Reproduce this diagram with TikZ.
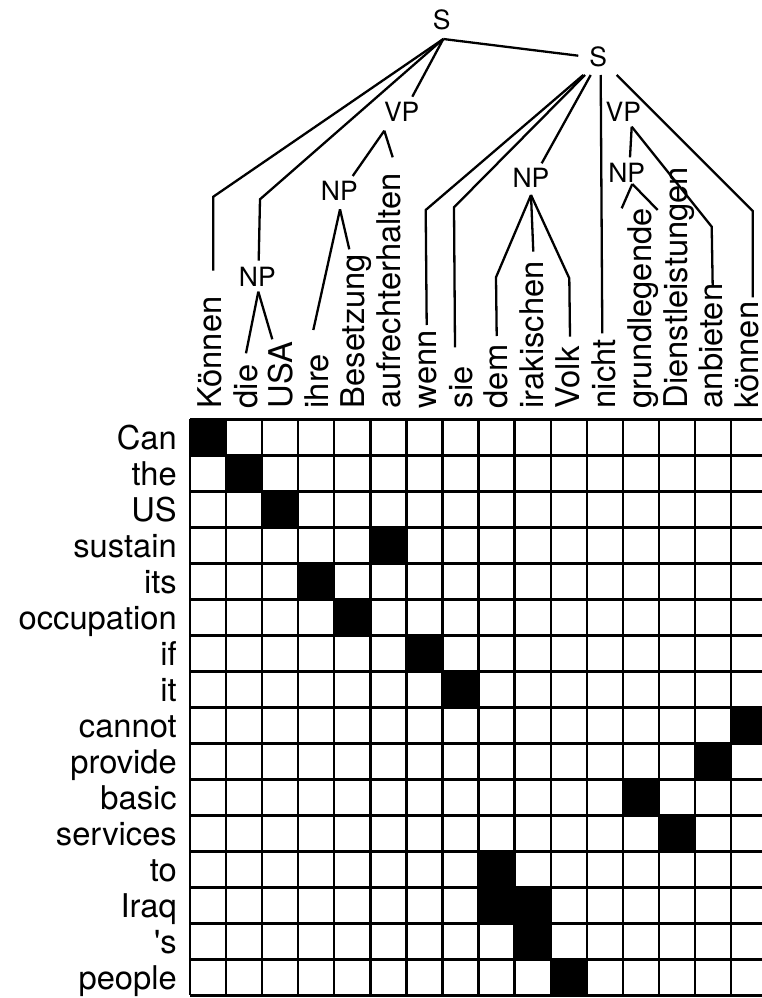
\documentclass[tikz,border=0pt]{standalone}
\usepackage{fontspec}
\setmainfont{TeX Gyre Heros}
\begin{document}
\begin{tikzpicture}[x=1pt,y=-1pt,
  ln/.style={line width=2.3pt, line join=miter},
  gl/.style={line width=2.4pt},
  lab/.style={font=\fontsize{26.5}{30}\selectfont, inner sep=0pt},
  wd/.style={font=\fontsize{32.7}{36}\selectfont, inner sep=0pt, rotate=90, anchor=base west},
  en/.style={font=\fontsize{32.7}{36}\selectfont, inner sep=0pt, anchor=base east}]
\useasboundingbox (0,0) rectangle (762,998);

% alignment cells
\foreach \r/\c in {0/0,1/1,2/2,3/5,4/3,5/4,6/6,7/7,8/15,9/14,10/12,11/13,12/8,13/8,13/9,14/9,15/10}
  \fill ({190+36.07*\c},{419.3+36*\r}) rectangle ++(36.07,36);
% grid
\foreach \i in {0,...,16}{
  \draw[gl] ({190+36.07*\i},419.3) -- ({190+36.07*\i},995.3);
  \draw[gl] (190,{419.3+36*\i}) -- (767.1,{419.3+36*\i});
}

% English words
\foreach \w [count=\k from 0] in {Can,the,US,sustain,its,occupation,if,it,cannot,provide,basic,services,to,Iraq,\textquotesingle s,people}
  \node[en] (e\k) at (177,{449.6+36*\k}) {\w};

% German words
\foreach \w [count=\k from 0] in {Können,die,USA,ihre,Besetzung,aufrechterhalten,wenn,sie,dem,irakischen,Volk,nicht,grundlegende,Dienstleistungen,anbieten,können}
  \node[wd] (g\k) at ({221.2+35.84*\k},408.5) {\w};

% tree labels
\node[lab] (S1) at (441.7,20) {S};
\node[lab] (S2) at (598.3,56.7) {S};
\node[lab] (VP1) at (401.7,111.7) {VP};
\node[lab] (NP1) at (339.3,190.7) {NP};
\node[lab] (NP0) at (257.3,276.7) {NP};
\node[lab] (NP2) at (531,178.3) {NP};
\node[lab] (VP2) at (623.3,112.3) {VP};
\node[lab] (NP3) at (626.7,172.7) {NP};

% attachment points
\coordinate (S1b) at (443.3,39);
\coordinate (S2w) at (578.3,55.7);
\coordinate (S2a) at (583.3,75);
\coordinate (S2b) at (585,75);
\coordinate (S2c) at (590.7,75);
\coordinate (S2d) at (600.7,75);
\coordinate (S2e) at (616.7,75);
\coordinate (VP1t) at (412.3,96.7);
\coordinate (VP1b) at (384.3,130.7);
\coordinate (NP1t) at (352.7,176);
\coordinate (NP1b) at (340,209.3);
\coordinate (NP0t) at (258.7,260.7);
\coordinate (NP0b) at (258.3,291.7);
\coordinate (NP2t) at (541.7,163.3);
\coordinate (NP2b) at (531,195);
\coordinate (VP2b) at (631.7,126.7);
\coordinate (NP3t) at (630,157.3);
\coordinate (NP3b) at (632.3,184);
% corners
\coordinate (c0) at (213.3,196.7);
\coordinate (c1) at (260,199.3);
\coordinate (c6) at (425.7,210);
\coordinate (c7) at (454,207.3);
\coordinate (c8) at (496,277.3);
\coordinate (c10) at (569.3,278.3);
\coordinate (c14) at (711.7,226.7);
\coordinate (c15) at (752.7,211);
% word ends
\coordinate (t0) at (213.3,270.7);
\coordinate (t1) at (246,353.3);
\coordinate (t2) at (272.3,339.3);
\coordinate (t3) at (313.3,330);
\coordinate (t4) at (349.3,249.3);
\coordinate (t5) at (392.7,157.3);
\coordinate (t6) at (426.7,325);
\coordinate (t7) at (455,347.3);
\coordinate (t8) at (496.7,336);
\coordinate (t9) at (533.3,251.7);
\coordinate (t10) at (570,336.7);
\coordinate (t11) at (602.3,333.3);
\coordinate (t12) at (621.7,208.3);
\coordinate (t13) at (657.7,210);
\coordinate (t14) at (712.7,286.7);
\coordinate (t15) at (752.7,297.3);

% edges
\draw[ln] (S1b) -- (c0) -- (t0);
\draw[ln] (S1b) -- (c1) -- (NP0t);
\draw[ln] (S1b) -- (VP1t);
\draw[ln] (S1b) -- (S2w);
\draw[ln] (NP0b) -- (t1);
\draw[ln] (NP0b) -- (t2);
\draw[ln] (VP1b) -- (NP1t);
\draw[ln] (VP1b) -- (t5);
\draw[ln] (NP1b) -- (t3);
\draw[ln] (NP1b) -- (t4);
\draw[ln] (S2a) -- (c6) -- (t6);
\draw[ln] (S2b) -- (c7) -- (t7);
\draw[ln] (S2c) -- (NP2t);
\draw[ln] (S2d) -- (t11);
\draw[ln] (S2e) -- (c15) -- (t15);
\draw[ln] (NP2b) -- (c8) -- (t8);
\draw[ln] (NP2b) -- (t9);
\draw[ln] (NP2b) -- (c10) -- (t10);
\draw[ln] (VP2b) -- (NP3t);
\draw[ln] (VP2b) -- (c14) -- (t14);
\draw[ln] (NP3b) -- (t12);
\draw[ln] (NP3b) -- (t13);
\end{tikzpicture}
\end{document}
